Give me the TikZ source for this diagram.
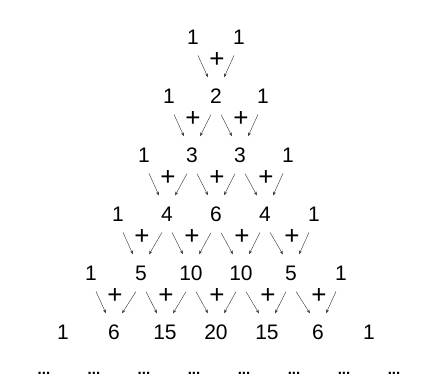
\documentclass[tikz,border=0pt]{standalone}
\usepackage{fontspec}
\setmainfont{Liberation Sans}
\usetikzlibrary{arrows.meta}

\begin{document}
\begin{tikzpicture}[x=1pt, y=-1pt,
    num/.style={font=\fontsize{21}{25}\selectfont, inner xsep=1pt, inner ysep=11pt},
    plus/.style={font=\fontsize{26}{28}\selectfont, inner sep=0pt},
    more/.style={font=\fontsize{15}{17}\selectfont\bfseries, inner sep=0pt},
    arrow/.style={-{Stealth[length=4pt, width=3pt]}, line width=0.45pt, black!75}
  ]
  \useasboundingbox (0,0) rectangle (421,378);
  % rows of the triangle
  \foreach \vals [count=\r from 0] in {{1,1},{1,2,1},{1,3,3,1},{1,4,6,4,1},{1,5,10,10,5,1},{1,6,15,20,15,6,1}}{
    \foreach \v [count=\k from 0] in \vals
      \node[num] (p-\r-\k) at ({216+(\k-(\r+1)/2)*(46+\r)}, {37+59*\r}) {\v};
  }
  % sums between the rows
  \foreach \r in {1,...,5}{
    \pgfmathtruncatemacro\q{\r-1}
    \foreach \k in {1,...,\r}{
      \pgfmathtruncatemacro\j{\k-1}
      \node[plus] (s-\r-\k) at ([xshift=1pt, yshift=36pt]p-\r-\k) {+};
      \draw[arrow] ([xshift=5pt]p-\q-\j.south) -- ([xshift=-8pt]p-\r-\k.north);
      \draw[arrow] ([xshift=-5pt]p-\q-\k.south) -- ([xshift=8pt]p-\r-\k.north);
    }
  }
  % the rows go on
  \foreach \k in {0,...,7}
    \node[more] (d-\k) at ({219+(\k-3.5)*50}, 373) {...};
\end{tikzpicture}
\end{document}
